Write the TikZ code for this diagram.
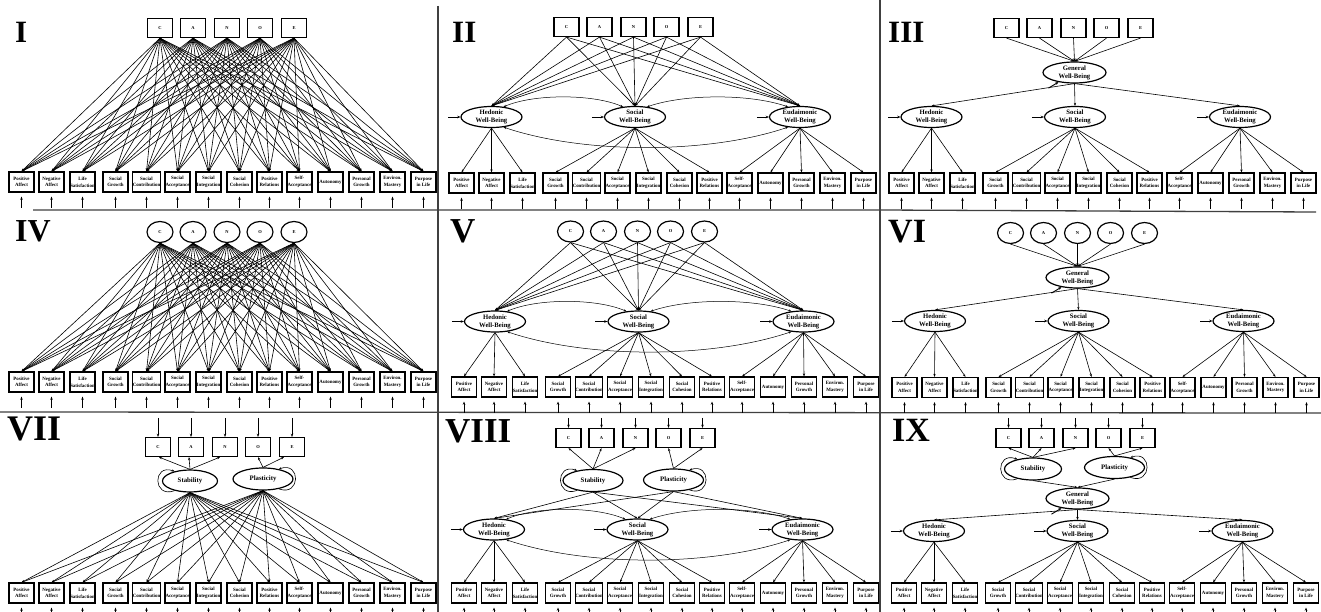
\documentclass[tikz,border=0pt]{standalone}
\usepackage{fontspec}
\setmainfont{Liberation Serif}
\usetikzlibrary{arrows.meta,shapes.geometric,calc}

\tikzset{
  obs/.style={draw, line width=1.2pt, minimum width=25pt, minimum height=20pt, inner sep=0pt,
    align=center, font=\fontsize{4.9}{6.6}\selectfont\bfseries},
  trait/.style={draw, line width=1.2pt, minimum width=25pt, minimum height=19pt, inner sep=0pt,
    font=\fontsize{4.5}{5}\selectfont\bfseries},
  traitlat/.style={ellipse, draw, line width=1.2pt, minimum width=26pt, minimum height=21pt,
    inner sep=0pt, font=\fontsize{4.5}{5}\selectfont\bfseries},
  lat/.style={ellipse, draw, line width=1.2pt, minimum width=61pt, minimum height=21pt,
    inner sep=0pt, align=center, font=\fontsize{6.7}{8}\selectfont\bfseries},
  meta/.style={ellipse, draw, line width=1.2pt, minimum width=55pt, minimum height=22pt,
    inner sep=0pt, font=\fontsize{6.8}{8}\selectfont\bfseries},
  ld/.style={-{Stealth[length=3pt,width=2.3pt]}, line width=0.6pt},
  err/.style={-{Stealth[length=3.2pt,width=2.5pt]}, line width=0.9pt},
  cov/.style={{Stealth[length=2.6pt,width=2.1pt]}-{Stealth[length=2.6pt,width=2.1pt]}, line width=0.5pt},
  var/.style={-{Stealth[length=2.8pt,width=2.2pt]}, line width=0.6pt},
  rule/.style={line width=1.3pt, draw=black!75},
  num/.style={inner sep=0pt, anchor=north west},
}

% fourteen indicator boxes with their residual arrows
\newcommand\obsrow[3]{%
  \foreach \ix/\xx/\lab in {1/21.5/{Positive\\Affect},2/51.5/{Negative\\Affect},
      3/82.5/{Life\\Satisfaction},4/115.5/{Social\\Growth},5/146.5/{Social\\Contribution},
      6/177.5/{Social\\Acceptance},7/208.5/{Social\\Integration},8/239.5/{Social\\Cohesion},
      9/269.5/{Positive\\Relations},10/299.5/{Self-\\Acceptance},11/330.5/{Autonomy},
      12/361.5/{Personal\\Growth},13/392.5/{Environ.\\Mastery},14/423.5/{Purpose\\in Life}}{%
    \node[obs] (#1b\ix) at (\xx+#2,#3) {\lab};
    \draw[err] ([yshift=-15pt]#1b\ix.south) -- ([yshift=-4pt]#1b\ix.south);
  }}

% the five trait nodes C A N O E
\newcommand\fivetop[4]{%
  \foreach \ix/\dx/\lab in {1/0/C,2/33/A,3/67/N,4/100/O,5/134/E}{%
    \node[#2] (#1t\ix) at (#3+\dx,#4) {\lab};}}

% hedonic, social and eudaimonic well-being factors with their indicators
\newcommand\wbtriple[3]{%
  \node[lat] (#1H) at (491.5+#2,117+#3) {Hedonic\\Well-Being};
  \node[lat] (#1S) at (635+#2,117+#3) {Social\\Well-Being};
  \node[lat] (#1E) at (800+#2,117+#3) {Eudaimonic\\Well-Being};
  \foreach \nn in {H,S,E}{\draw[err] ([xshift=-12pt]#1\nn.west) -- (#1\nn.west);}
  \foreach \kk in {1,2,3}{\draw[ld] (#1H.south) -- (#1b\kk.north);}
  \foreach \kk in {4,...,9}{\draw[ld] (#1S.south) -- (#1b\kk.north);}
  \foreach \kk in {10,...,14}{\draw[ld] (#1E.south) -- (#1b\kk.north);}
}

% covariances among the three well-being factors
\newcommand\wbcov[1]{%
  \draw[cov] (#1H.40) .. controls +(30,-13) and +(-30,-13) .. (#1S.140);
  \draw[cov] (#1S.40) .. controls +(38,-13) and +(-38,-13) .. (#1E.140);
  \draw[cov] (#1H.320) .. controls +(80,27) and +(-80,27) .. (#1E.220);
}

% stability and plasticity metatraits with variance loops and trait residuals
\newcommand\metapair[7]{%
  \node[meta, minimum width=#6] (#1St) at (#2,#3) {Stability};
  \node[meta, minimum width=60pt] (#1Pl) at (#4,#5) {Plasticity};
  \draw[var] (#1St.212) .. controls +(-22,8) and +(-22,-8) .. (#1St.148);
  \draw[var] (#1Pl.328) .. controls +(22,8) and +(22,-8) .. (#1Pl.32);
  \foreach \ix in {1,...,5}{\draw[err] ([yshift=#7]#1t\ix.north) -- (#1t\ix.north);}
}

\begin{document}
\begin{tikzpicture}[x=1pt, y=-1pt]
\useasboundingbox (0,0) rectangle (1321,612);
\fill[white] (0,0) rectangle (1321,612);

% panel rules
\draw[rule] (33,210) -- (438,210) -- (880,210) -- (1316,212);
\draw[rule] (0,412) -- (1321,413);
\draw[rule] (438,6) -- (438,612);
\draw[rule] (880,0) -- (880,612);

% panel numerals
\node[num, font=\fontsize{31}{31}\selectfont\bfseries] (nI) at (15,22) {I};
\node[num, font=\fontsize{31}{31}\selectfont\bfseries] (nII) at (452,22) {II};
\node[num, font=\fontsize{31}{31}\selectfont\bfseries] (nIII) at (888,22) {III};
\node[num, font=\fontsize{32}{32}\selectfont\bfseries] (nIV) at (15,220) {IV};
\node[num, font=\fontsize{35}{35}\selectfont\bfseries] (nV) at (450,219) {V};
\node[num, font=\fontsize{34}{34}\selectfont\bfseries] (nVI) at (888,220) {VI};
\node[num, font=\fontsize{36}{36}\selectfont\bfseries] (nVII) at (7,417) {VII};
\node[num, font=\fontsize{35}{35}\selectfont\bfseries] (nVIII) at (445,419) {VIII};
\node[num, font=\fontsize{34}{34}\selectfont\bfseries] (nIX) at (892,419) {IX};

% I: observed traits, direct paths to every indicator
\fivetop{pA}{trait}{160}{28}
\obsrow{pA}{0}{182}
\foreach \aa in {1,...,5}{\foreach \bb in {1,...,14}{\draw[ld] (pAt\aa.south) -- (pAb\bb.north);}}

% II: observed traits to three correlated factors
\fivetop{pB}{trait}{566.5}{27}
\obsrow{pB}{440}{183}
\wbtriple{pB}{0}{0}
\wbcov{pB}
\foreach \aa in {1,...,5}{\foreach \nn in {H,S,E}{\draw[ld] (pBt\aa.south) -- (pB\nn.north);}}

% III: observed traits to a general factor
\fivetop{pC}{trait}{1006.5}{28}
\obsrow{pC}{880}{183}
\node[lat, minimum width=63pt] (pCG) at (1074.5,72.5) {General\\Well-Being};
\wbtriple{pC}{440}{0}
\foreach \aa in {1,...,5}{\draw[ld] (pCt\aa.south) -- (pCG.north);}
\foreach \nn in {H,S,E}{\draw[ld] (pCG.south) -- (pC\nn.north);}
\draw[err] ($(pCG.211)+(-10,6)$) -- (pCG.211);

% IV: latent traits, direct paths to every indicator
\fivetop{pD}{traitlat}{160}{232}
\obsrow{pD}{0}{382}
\foreach \aa in {1,...,5}{\foreach \bb in {1,...,14}{\draw[ld] (pDt\aa.south) -- (pDb\bb.north);}}

% V: latent traits to three correlated factors
\fivetop{pE}{traitlat}{570.5}{231.5}
\obsrow{pE}{442.5}{387}
\wbtriple{pE}{3.5}{204.5}
\wbcov{pE}
\foreach \aa in {1,...,5}{\foreach \nn in {H,S,E}{\draw[ld] (pEt\aa.south) -- (pE\nn.north);}}

% VI: latent traits to a general factor
\fivetop{pF}{traitlat}{1010.5}{233}
\obsrow{pF}{883}{387.5}
\node[lat, minimum width=63pt] (pFG) at (1077.5,277.5) {General\\Well-Being};
\wbtriple{pF}{443.5}{204}
\foreach \aa in {1,...,5}{\draw[ld] (pFt\aa.south) -- (pFG.north);}
\foreach \nn in {H,S,E}{\draw[ld] (pFG.south) -- (pF\nn.north);}
\draw[err] ($(pFG.211)+(-10,6)$) -- (pFG.211);

% VII: metatraits, direct paths to every indicator
\fivetop{pG}{trait}{158}{447}
\metapair{pG}{190}{481}{263}{479}{55pt}{19pt}
\draw[ld] (pGSt.north) -- ([xshift=1pt]pGt1.south);
\draw[ld] (pGSt.north) -- ([xshift=-2pt]pGt2.south);
\draw[ld] (pGSt.north) -- ([xshift=-5pt]pGt3.south);
\draw[ld] (pGPl.north) -- (pGt4.south);
\draw[ld] (pGPl.north) -- ([xshift=-8pt]pGt5.south);
\obsrow{pG}{0}{593}
\foreach \bb in {1,...,14}{%
  \draw[ld] (pGSt.south) -- (pGb\bb.north);
  \draw[ld] (pGPl.south) -- (pGb\bb.north);}

% VIII: metatraits to three correlated factors
\fivetop{pH}{trait}{568.5}{438}
\metapair{pH}{593}{480.5}{673.5}{480}{60pt}{10pt}
\foreach \ix in {1,...,5}{\draw[ld] (pH\ifnum\ix<4 St\else Pl\fi.north) -- (pHt\ix.south);}
\obsrow{pH}{442.5}{593}
\wbtriple{pH}{2.5}{412.5}
\wbcov{pH}
\foreach \nn in {H,S,E}{%
  \draw[ld] (pHSt.south) -- (pH\nn.north);
  \draw[ld] (pHPl.south) -- (pH\nn.north);}

% IX: metatraits to a general factor
\fivetop{pI}{trait}{1008.5}{438}
\metapair{pI}{1033}{469}{1114.5}{467.5}{57pt}{10pt}
\foreach \ix in {1,...,5}{\draw[ld] (pI\ifnum\ix<4 St\else Pl\fi.north) -- (pIt\ix.south);}
\obsrow{pI}{882.5}{593}
\node[lat, minimum width=63pt] (pIG) at (1077.5,498.5) {General\\Well-Being};
\wbtriple{pI}{442.5}{414}
\draw[ld] (pISt.south) -- (pIG.north);
\draw[ld] (pIPl.south) -- (pIG.north);
\foreach \nn in {H,S,E}{\draw[ld] (pIG.south) -- (pI\nn.north);}
\draw[err] ($(pIG.211)+(-10,6)$) -- (pIG.211);
\end{tikzpicture}
\end{document}
